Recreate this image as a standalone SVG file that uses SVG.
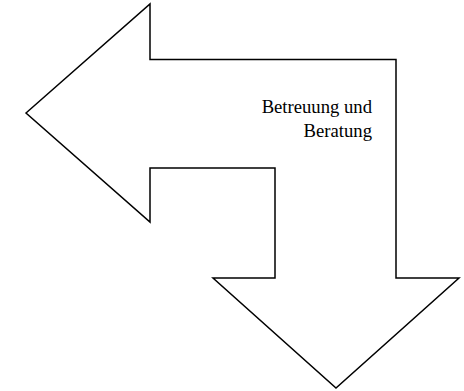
<svg xmlns="http://www.w3.org/2000/svg" width="464" height="391" viewBox="0 0 464 391">
<style>
.shape{fill:#fff;stroke:#000;stroke-width:1.5;stroke-linejoin:miter}
.lbl{font-family:"Liberation Serif","Times New Roman",serif;font-size:18.67px;fill:#000;text-anchor:end}
</style>
<rect width="464" height="391" fill="#fff"/>
<g id="bent-arrow">
<polygon class="shape" points="26,113 150,4 150,59.5 396,59.5 396,278 459,278 336,388 213,278 275,278 275,168 150,168 150,222"/>
<text class="lbl" x="372" y="113">Betreuung und</text>
<text class="lbl" x="372" y="137">Beratung</text>
</g>
<g id="connectors"/>
</svg>
